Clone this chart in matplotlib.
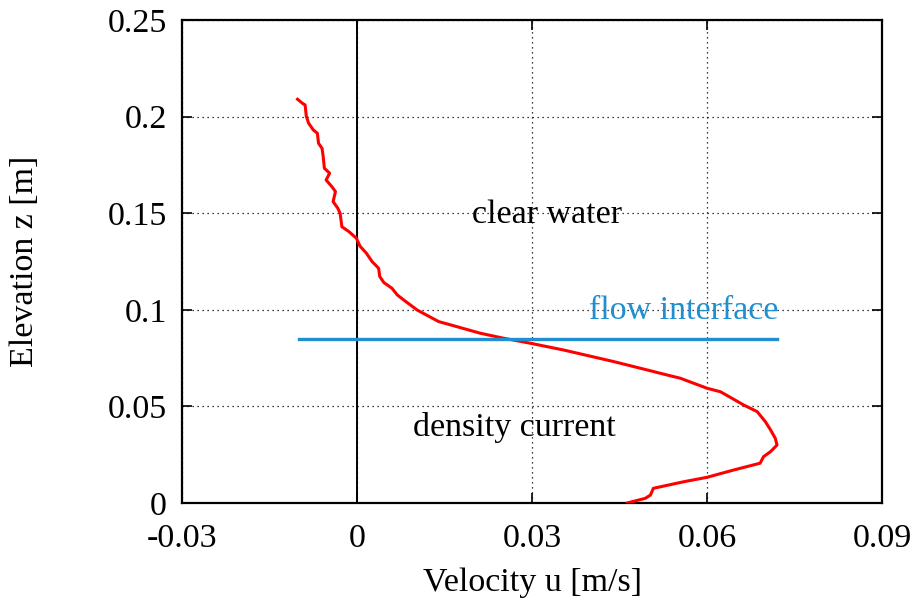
import matplotlib
matplotlib.use("Agg")
import matplotlib.pyplot as plt

# velocity profile (top of profile -> bed)
u = [-0.0102, -0.0094, -0.0089, -0.0087, -0.0083, -0.0075, -0.0068, -0.0066,
     -0.0060, -0.0058, -0.0056, -0.0047, -0.0053, -0.0043, -0.0037, -0.0041,
     -0.0033, -0.0029, -0.0026, -0.0014, -0.0001, 0.0005, 0.0016, 0.0026,
     0.0037, 0.0039, 0.0046, 0.0060, 0.0069, 0.0080, 0.0103, 0.0140, 0.0171,
     0.0211, 0.0251, 0.0297, 0.0354, 0.0440, 0.0497, 0.0531, 0.0554, 0.0600,
     0.0623, 0.0663, 0.0686, 0.0700, 0.0709, 0.0717, 0.0720, 0.0709, 0.0697,
     0.0691, 0.0646, 0.0600, 0.0560, 0.0508, 0.0503, 0.0494, 0.0463]
z = [0.2090, 0.2070, 0.2060, 0.2003, 0.1966, 0.1931, 0.1914, 0.1862,
     0.1836, 0.1793, 0.1733, 0.1707, 0.1672, 0.1637, 0.1612, 0.1560,
     0.1526, 0.1500, 0.1430, 0.1405, 0.1370, 0.1330, 0.1293, 0.1249,
     0.1215, 0.1172, 0.1141, 0.1111, 0.1077, 0.1051, 0.0999, 0.0939, 0.0913,
     0.0879, 0.0853, 0.0827, 0.0792, 0.0732, 0.0689, 0.0663, 0.0646, 0.0594,
     0.0576, 0.0507, 0.0473, 0.0421, 0.0378, 0.0335, 0.0300, 0.0266, 0.0240,
     0.0206, 0.0171, 0.0133, 0.0110, 0.0076, 0.0041, 0.0024, 0.0000]

interface_z = 0.085
interface_u = [-0.010, 0.072]

xticks = [-0.03, 0, 0.03, 0.06, 0.09]
xlabels = ["-0.03", "0", "0.03", "0.06", "0.09"]
yticks = [0, 0.05, 0.1, 0.15, 0.2, 0.25]
ylabels = ["0", "0.05", "0.1", "0.15", "0.2", "0.25"]

plt.rcParams["font.family"] = ["Liberation Serif", "DejaVu Serif"]
plt.rcParams["font.size"] = 24.5

fig = plt.figure(figsize=(9.18, 6.05), dpi=100)
ax = fig.add_axes([0.1983, 0.1686, 0.7625, 0.7983])

ax.set_xlim(-0.03, 0.09)
ax.set_ylim(0, 0.25)
ax.set_xticks(xticks)
ax.set_xticklabels(xlabels)
ax.set_yticks(yticks)
ax.set_yticklabels(ylabels)
ax.tick_params(direction="in", length=7, width=1.2, top=True, right=True)
ax.tick_params(axis="x", pad=15)
ax.tick_params(axis="y", pad=11)
ax.grid(color="black", ls=(0, (1, 3)), lw=0.9)
for s in ax.spines.values():
    s.set_linewidth(1.6)

ax.axvline(0, color="black", lw=1.4, zorder=2)

ax.plot(u, z, color="red", lw=2.2, zorder=3)
ax.plot(interface_u, [interface_z, interface_z], color="#1f8fcf", lw=2.4, zorder=3)

ax.text(0.0326, 0.149, "clear water", ha="center", va="center")
ax.text(0.0560, 0.0995, "flow interface", ha="center", va="center", color="#1f8fcf")
ax.text(0.0270, 0.039, "density current", ha="center", va="center")

ax.set_xlabel("Velocity u [m/s]", va="center")
ax.set_ylabel("Elevation z [m]", va="center")
ax.xaxis.set_label_coords(0.5, -0.165)
ax.yaxis.set_label_coords(-0.225, 0.5)

fig.savefig("out.png", dpi=100)
